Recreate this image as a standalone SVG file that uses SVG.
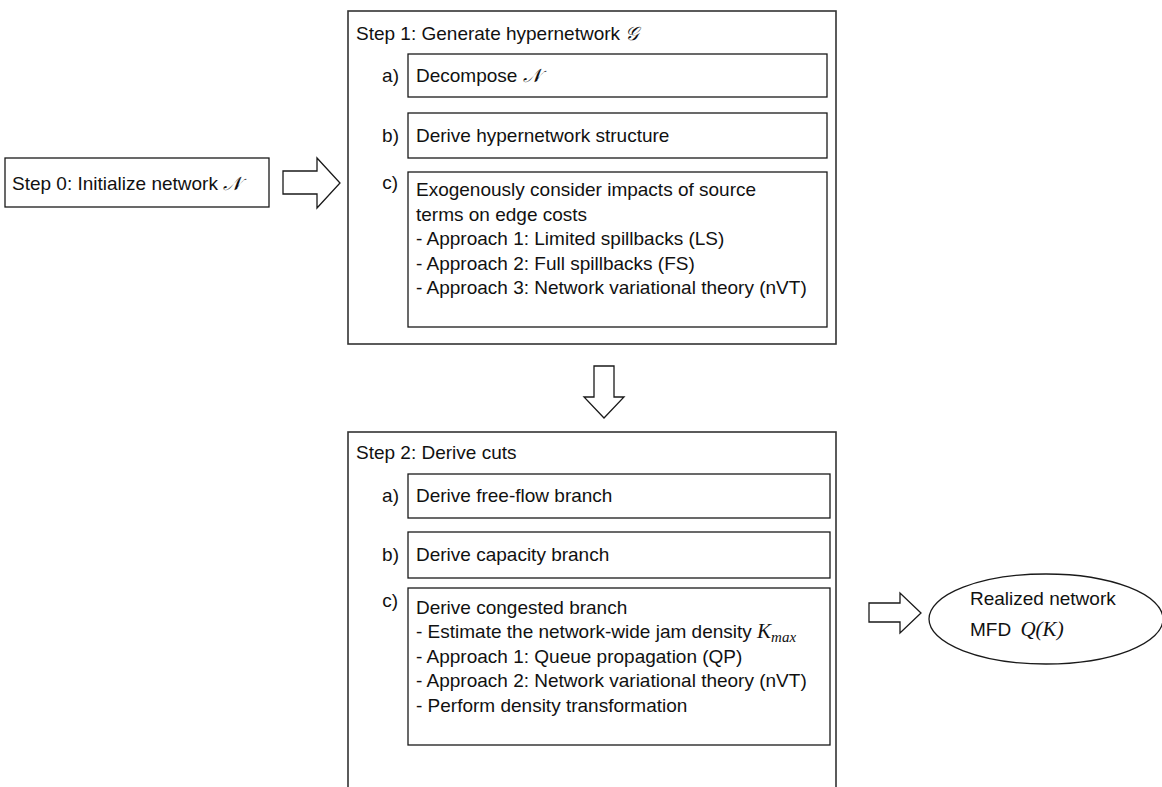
<svg xmlns="http://www.w3.org/2000/svg" width="1162" height="787" viewBox="0 0 1162 787">
  <style>
    .box { fill: #ffffff; stroke: #1a1a1a; stroke-width: 1.3; }
    .frame { fill: #ffffff; stroke: #333333; stroke-width: 1.6; }
    .arrow { fill: #ffffff; stroke: #1a1a1a; stroke-width: 1.3; stroke-linejoin: miter; }
    text { font-family: "Liberation Sans", Arial, sans-serif; font-size: 19px; fill: #111111; }
    .lbl { text-anchor: end; }
    .cal { font-family: "DejaVu Serif", "Liberation Serif", serif; font-style: italic; }
    .math { font-family: "Liberation Serif", "Times New Roman", serif; font-style: italic; font-size: 21px; }
    .sub { font-family: "Liberation Serif", "Times New Roman", serif; font-style: italic; font-size: 15px; }
  </style>

  <!-- Step 0 -->
  <g id="step0">
    <rect class="box" x="5" y="158" width="264" height="49"/>
    <text x="12" y="190">Step 0: Initialize network <tspan class="cal">𝒩</tspan></text>
  </g>

  <!-- Step 1 -->
  <g id="step1">
    <rect class="frame" x="348" y="11" width="488" height="333"/>
    <text x="356" y="40">Step 1: Generate hypernetwork <tspan class="cal">𝒢</tspan></text>
  </g>
  <g id="step1a">
    <text class="lbl" x="399" y="82">a)</text>
    <rect class="box" x="408" y="54" width="419" height="43"/>
    <text x="416" y="82">Decompose <tspan class="cal">𝒩</tspan></text>
  </g>
  <g id="step1b">
    <text class="lbl" x="399" y="142">b)</text>
    <rect class="box" x="408" y="113" width="419" height="45"/>
    <text x="416" y="142">Derive hypernetwork structure</text>
  </g>
  <g id="step1c">
    <text class="lbl" x="398" y="189">c)</text>
    <rect class="box" x="408" y="172" width="419" height="155"/>
    <text x="416" y="196">Exogenously consider impacts of source</text>
    <text x="416" y="221">terms on edge costs</text>
    <text x="416" y="245">- Approach 1: Limited spillbacks (LS)</text>
    <text x="416" y="270">- Approach 2: Full spillbacks (FS)</text>
    <text x="416" y="294">- Approach 3: Network variational theory (nVT)</text>
  </g>

  <!-- Step 2 -->
  <g id="step2">
    <rect class="frame" x="348" y="432" width="488" height="370"/>
    <text x="356" y="459">Step 2: Derive cuts</text>
  </g>
  <g id="step2a">
    <text class="lbl" x="399" y="502">a)</text>
    <rect class="box" x="408" y="474" width="422" height="44"/>
    <text x="416" y="502">Derive free-flow branch</text>
  </g>
  <g id="step2b">
    <text class="lbl" x="399" y="561">b)</text>
    <rect class="box" x="408" y="532" width="422" height="46"/>
    <text x="416" y="561">Derive capacity branch</text>
  </g>
  <g id="step2c">
    <text class="lbl" x="398" y="607">c)</text>
    <rect class="box" x="408" y="588" width="422" height="157"/>
    <text x="416" y="614">Derive congested branch</text>
    <text x="416" y="638">- Estimate the network-wide jam density <tspan class="math">K</tspan><tspan class="sub" dy="4">max</tspan></text>
    <text x="416" y="663">- Approach 1: Queue propagation (QP)</text>
    <text x="416" y="687">- Approach 2: Network variational theory (nVT)</text>
    <text x="416" y="712">- Perform density transformation</text>
  </g>

  <!-- Result -->
  <g id="result">
    <ellipse class="box" cx="1046" cy="619" rx="117" ry="45"/>
    <text x="970" y="605">Realized network</text>
    <text x="970" y="636">MFD <tspan class="math" dx="4">Q</tspan><tspan class="math" font-style="normal">(</tspan><tspan class="math">K</tspan><tspan class="math" font-style="normal">)</tspan></text>
  </g>

  <!-- Block arrows between stages -->
  <g id="connectors">
    <polygon class="arrow" points="283,171 317,171 317,158 340,183 317,208 317,194 283,194"/>
    <polygon class="arrow" points="594,366 614,366 614,397 624,397 604,418 584,397 594,397"/>
    <polygon class="arrow" points="869,603 900,603 900,593 921,613 900,633 900,622 869,622"/>
  </g>
</svg>
